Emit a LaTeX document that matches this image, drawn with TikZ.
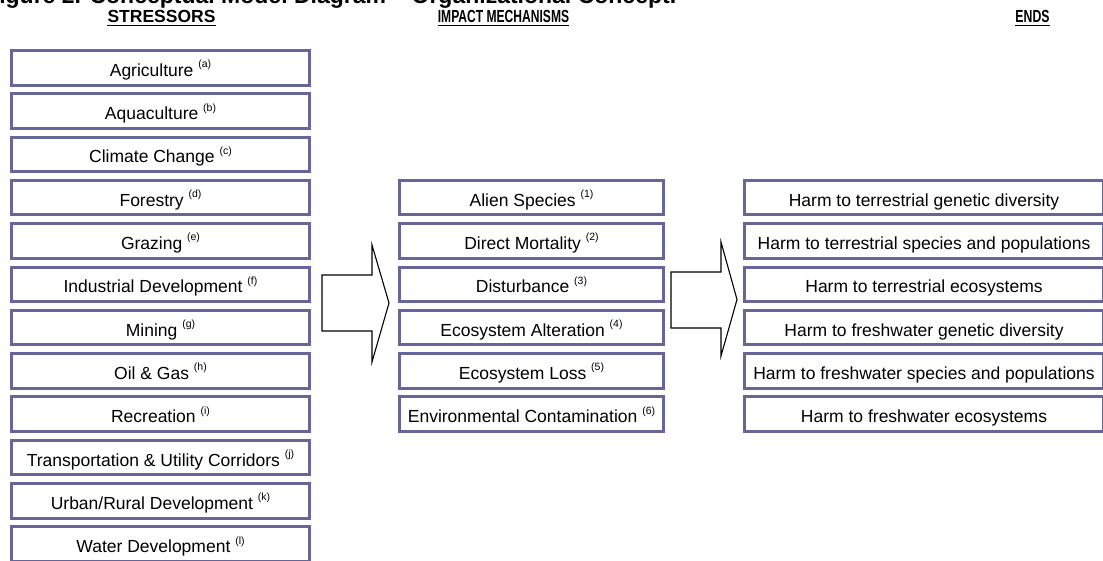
\documentclass[tikz,border=0pt]{standalone}
\usepackage{fontspec}
\setmainfont{Liberation Sans}
\usepackage{graphicx}
\definecolor{boxc}{RGB}{102,102,153}
\newcommand\supr[1]{\raisebox{8.5bp}{\fontsize{10.5bp}{12bp}\selectfont(#1)}}
\begin{document}
\begin{tikzpicture}[x=1bp,y=-1bp,
  box/.style={draw=boxc, line width=3bp, fill=white, inner sep=0pt,
    minimum height=34.5bp, text height=21bp, text depth=4bp,
    font=\fontsize{17.5bp}{20bp}\selectfont},
  sbox/.style={box, minimum width=298bp},
  mbox/.style={box, minimum width=264bp},
  ebox/.style={box, minimum width=359bp},
  head/.style={inner sep=0pt, anchor=base, font=\bfseries\fontsize{17.5bp}{20bp}\selectfont},
  uline/.style={line width=1.8bp},
  bigarrow/.style={draw=black, line width=1.1bp, fill=white, line join=miter}]
\path[use as bounding box] (0,0) rectangle (1103,561);
\clip (0,0) rectangle (1103,561);
% clipped title
\node[anchor=base west, inner sep=0pt, font=\bfseries\fontsize{23bp}{26bp}\selectfont] (title) at (-15,4) {Figure 2. Conceptual Model Diagram -- Organizational Concept.};
% headers
\node[head] (hs) at (161.5,23) {STRESSORS};
\draw[uline] ([yshift=-2.5bp]hs.base west) -- ([yshift=-2.5bp]hs.base east);
\node[head] (hm) at (503.5,23) {\scalebox{0.69}[1]{IMPACT MECHANISMS}};
\draw[uline] ([yshift=-2.5bp]hm.base west) -- ([yshift=-2.5bp]hm.base east);
\node[head] (he) at (1032.5,23) {\scalebox{0.70}[1]{ENDS}};
\draw[uline] ([yshift=-2.5bp]he.base west) -- ([yshift=-2.5bp]he.base east);
% stressors
\node[sbox] (s1)  at (160.5,67.8)  {Agriculture \supr{a}};
\node[sbox] (s2)  at (160.5,111.1) {Aquaculture \supr{b}};
\node[sbox] (s3)  at (160.5,154.4) {Climate Change \supr{c}};
\node[sbox] (s4)  at (160.5,197.7) {Forestry \supr{d}};
\node[sbox] (s5)  at (160.5,241.0) {Grazing \supr{e}};
\node[sbox] (s6)  at (160.5,284.3) {Industrial Development \supr{f}};
\node[sbox] (s7)  at (160.5,327.6) {Mining \supr{g}};
\node[sbox] (s8)  at (160.5,370.9) {Oil \& Gas \supr{h}};
\node[sbox] (s9)  at (160.5,414.2) {Recreation \supr{i}};
\node[sbox] (s10) at (160.5,457.5) {Transportation \& Utility Corridors \supr{j}};
\node[sbox] (s11) at (160.5,500.8) {Urban/Rural Development \supr{k}};
\node[sbox] (s12) at (160.5,544.1) {Water Development \supr{l}};
% impact mechanisms
\node[mbox] (m1) at (531.5,197.7) {Alien Species \supr{1}};
\node[mbox] (m2) at (531.5,241.0) {Direct Mortality \supr{2}};
\node[mbox] (m3) at (531.5,284.3) {Disturbance \supr{3}};
\node[mbox] (m4) at (531.5,327.6) {Ecosystem Alteration \supr{4}};
\node[mbox] (m5) at (531.5,370.9) {Ecosystem Loss \supr{5}};
\node[mbox] (m6) at (531.5,414.2) {Environmental Contamination \supr{6}};
% ends
\node[ebox] (e1) at (924,197.7) {Harm to terrestrial genetic diversity};
\node[ebox] (e2) at (924,241.0) {Harm to terrestrial species and populations};
\node[ebox] (e3) at (924,284.3) {Harm to terrestrial ecosystems};
\node[ebox] (e4) at (924,327.6) {Harm to freshwater genetic diversity};
\node[ebox] (e5) at (924,370.9) {Harm to freshwater species and populations};
\node[ebox] (e6) at (924,414.2) {Harm to freshwater ecosystems};
% block arrows
\draw[bigarrow] (322,275) -- (372,275) -- (372,245) -- (389,303) -- (372,362) -- (372,331) -- (322,331) -- cycle;
\draw[bigarrow] (671,272) -- (721,272) -- (721,242) -- (737,299.5) -- (721,356) -- (721,328) -- (671,328) -- cycle;
\end{tikzpicture}
\end{document}
